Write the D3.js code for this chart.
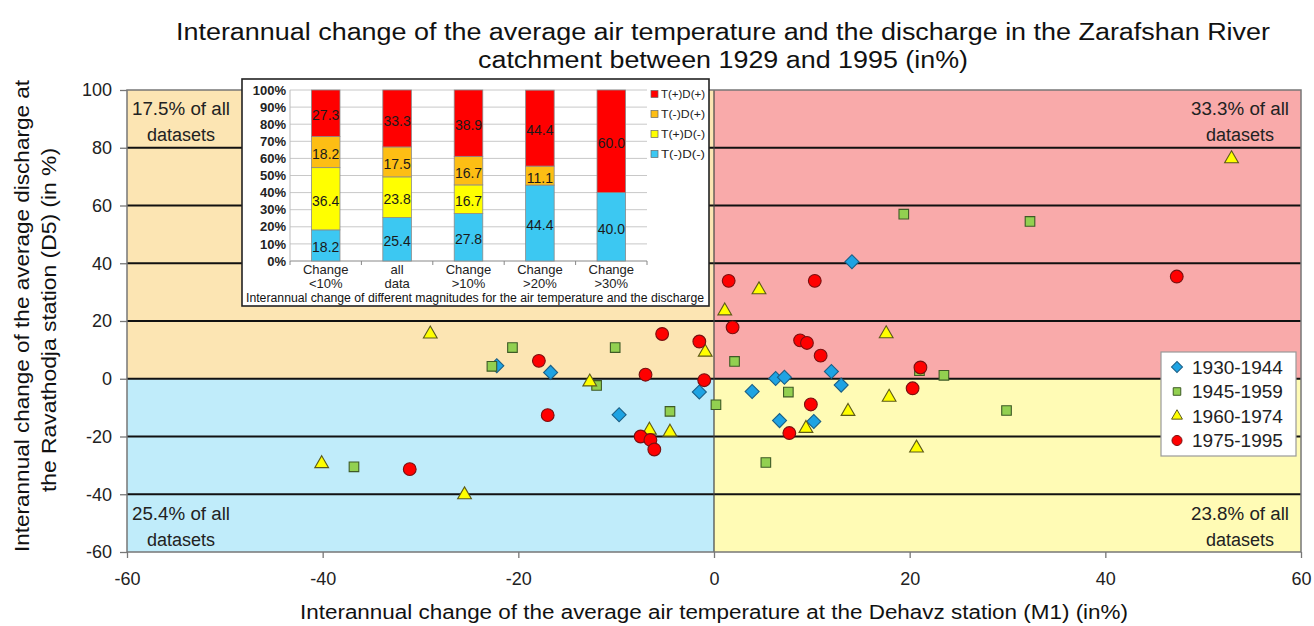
<!DOCTYPE html>
<html><head><meta charset="utf-8">
<script src="https://cdn.jsdelivr.net/npm/d3@7"></script>
<style>
html,body{margin:0;padding:0;background:#fff;}
svg{display:block;font-family:"Liberation Sans",Arial,sans-serif;}
</style></head>
<body><svg id="c" width="1314" height="626"></svg>
<script>
// ---- Main scatter data (x = temperature change %, y = discharge change %) ----
const s1930x = [-22.2, -16.7, -9.7, -1.5, 14.1, 12.0, 6.3, 7.2, 13.0, 3.9, 6.7, 10.2];
const s1930y = [4.5, 2.2, -12.5, -4.6, 40.5, 2.5, 0.1, 0.5, -2.2, -4.4, -14.5, -14.8];
const s1945x = [-20.6, -22.7, -10.1, -12.0, -4.5, 0.2, -36.8, 19.4, 32.3, 2.1, 21.0, 23.5, 7.6, 29.9, 5.3];
const s1945y = [10.8, 4.3, 10.8, -2.3, -11.3, -9.0, -30.5, 57.0, 54.5, 6.0, 2.8, 1.2, -4.6, -11.0, -29.0];
const s1960x = [-29.0, -0.9, -12.7, -6.6, -4.5, -40.1, -25.5, 52.9, 4.6, 1.1, 17.6, 17.9, 13.7, 9.4, 20.7];
const s1960y = [15.5, 9.2, -1.1, -17.8, -18.5, -29.4, -40.2, 76.2, 30.8, 23.5, 15.6, -6.4, -11.3, -17.2, -24.0];
const s1975x = [-17.9, -5.3, -1.5, -7.0, -1.0, -17.0, -7.5, -6.5, -6.1, -31.1, 1.5, 10.3, 47.3, 1.9, 8.8, 9.5, 10.9, 21.1, 20.3, 9.9, 7.7];
const s1975y = [6.2, 15.5, 12.9, 1.4, -0.5, -12.6, -20.0, -21.2, -24.5, -31.3, 33.9, 33.9, 35.4, 17.8, 13.3, 12.4, 8.0, 3.9, -3.3, -8.9, -18.8];
const seriesNames = ["1930-1944", "1945-1959", "1960-1974", "1975-1995"];
const xTicks = [-60, -40, -20, 0, 20, 40, 60];
const yTicks = [-60, -40, -20, 0, 20, 40, 60, 80, 100];
const quadrantLabels = ["17.5% of all", "33.3% of all", "25.4% of all", "23.8% of all"];

// ---- Inset stacked bar data ----
const insetCats = ["Change|<10%", "all|data", "Change|>10%", "Change|>20%", "Change|>30%"];
const tmDm = [18.2, 25.4, 27.8, 44.4, 40.0];   // T(-)D(-)
const tpDm = [36.4, 23.8, 16.7, 0, 0];         // T(+)D(-)
const tmDp = [18.2, 17.5, 16.7, 11.1, 0];      // T(-)D(+)
const tpDp = [27.3, 33.3, 38.9, 44.4, 60.0];   // T(+)D(+)
const insetKeys = ["T(-)D(-)", "T(+)D(-)", "T(-)D(+)", "T(+)D(+)"];
const insetTicks = [0,10,20,30,40,50,60,70,80,90,100];

const svg = d3.select("#c");
const x = d3.scaleLinear().domain([-60, 60]).range([127, 1301]);
const y = d3.scaleLinear().domain([-60, 100]).range([552, 90]);

// Quadrant backgrounds
const quads = [
  {x0:-60,x1:0,y0:0,y1:100,c:"#FCE5B3"},
  {x0:0,x1:60,y0:0,y1:100,c:"#F9AAAA"},
  {x0:-60,x1:0,y0:-60,y1:0,c:"#C0ECFA"},
  {x0:0,x1:60,y0:-60,y1:0,c:"#FFFBB5"}
];
svg.append("g").selectAll("rect").data(quads).join("rect")
  .attr("x", d => x(d.x0)).attr("y", d => y(d.y1))
  .attr("width", d => x(d.x1) - x(d.x0)).attr("height", d => y(d.y0) - y(d.y1))
  .attr("fill", d => d.c);

// Horizontal gridlines
svg.append("g").selectAll("line").data(yTicks.filter(v => v > -60 && v < 100)).join("line")
  .attr("x1", x(-60)).attr("x2", x(60)).attr("y1", d => y(d)).attr("y2", d => y(d))
  .attr("stroke", "#111").attr("stroke-width", 1.8);
// vertical line at 0
svg.append("line").attr("x1", x(0)).attr("x2", x(0)).attr("y1", y(100)).attr("y2", y(-60))
  .attr("stroke", "#444").attr("stroke-width", 1.2);
// plot border
svg.append("rect").attr("x", x(-60)).attr("y", y(100)).attr("width", x(60)-x(-60)).attr("height", y(-60)-y(100))
  .attr("fill", "none").attr("stroke", "#777").attr("stroke-width", 1.5);

// Axes
const fmt = d => String(d);
const yAxis = svg.append("g").attr("transform", `translate(${x(-60)},0)`)
  .call(d3.axisLeft(y).tickValues(yTicks).tickFormat(fmt).tickSize(7).tickPadding(8));
const xAxis = svg.append("g").attr("transform", `translate(0,${y(-60)})`)
  .call(d3.axisBottom(x).tickValues(xTicks).tickFormat(fmt).tickSize(6).tickPadding(14));
[yAxis, xAxis].forEach(a => {
  a.select(".domain").remove();
  a.selectAll(".tick line").attr("stroke", "#777").attr("stroke-width", 1.3);
  a.selectAll(".tick text").attr("font-family", "Liberation Sans, Arial, sans-serif")
    .attr("font-size", 18).attr("fill", "#222");
});

// Quadrant labels
const ql = [
  {t: quadrantLabels[0], cx: 181, by: 115},
  {t: quadrantLabels[1], cx: 1240, by: 115},
  {t: quadrantLabels[2], cx: 181, by: 520},
  {t: quadrantLabels[3], cx: 1240, by: 520}
];
ql.forEach(q => {
  const t = svg.append("text").attr("x", q.cx).attr("y", q.by).attr("text-anchor", "middle")
    .attr("font-size", 18).attr("fill", "#222");
  t.append("tspan").attr("x", q.cx).attr("textLength", 98).attr("lengthAdjust", "spacingAndGlyphs").text(q.t);
  t.append("tspan").attr("x", q.cx).attr("dy", 26).text("datasets");
});

// Markers
const series = [
  {xs: s1930x, ys: s1930y, type: "diamond", fill: "#1EA3E3", stroke: "#1B5F86"},
  {xs: s1945x, ys: s1945y, type: "square", fill: "#92D050", stroke: "#3E5A26"},
  {xs: s1960x, ys: s1960y, type: "triangle", fill: "#FFFF00", stroke: "#5C5A1A"},
  {xs: s1975x, ys: s1975y, type: "circle", fill: "#FF0000", stroke: "#7A1010"}
];
function shapePath(type, big) {
  const k = big ? 1 : 0.62;
  if (type === "diamond") return d3.symbol(d3.symbolSquare, 98 * k)();
  if (type === "square") return d3.symbol(d3.symbolSquare, 92 * k)();
  if (type === "triangle") return d3.symbol(d3.symbolTriangle, 82 * k)();
  return d3.symbol(d3.symbolCircle, 128 * k)();
}
const mg = svg.append("g");
series.forEach(s => {
  const pts = s.xs.map((v, i) => [v, s.ys[i]]);
  mg.append("g").selectAll("path").data(pts).join("path")
    .attr("d", shapePath(s.type, true))
    .attr("transform", d => `translate(${x(d[0])},${y(d[1])})` + (s.type === "diamond" ? " rotate(45)" : ""))
    .attr("fill", s.fill).attr("stroke", s.stroke).attr("stroke-width", 1.1);
});

// Main legend
const lg = svg.append("g");
lg.append("rect").attr("x", 1161).attr("y", 352).attr("width", 135).attr("height", 104)
  .attr("fill", "#fff").attr("stroke", "#999").attr("stroke-width", 1.2);
series.forEach((s, i) => {
  const cy = 367 + i * 24.5;
  lg.append("path").attr("d", shapePath(s.type, false))
    .attr("transform", `translate(1177,${cy})` + (s.type === "diamond" ? " rotate(45)" : ""))
    .attr("fill", s.fill).attr("stroke", s.stroke).attr("stroke-width", 1);
  lg.append("text").attr("x", 1192).attr("y", cy).attr("dy", "0.36em")
    .attr("font-size", 19).attr("fill", "#222").text(seriesNames[i]);
});

// Titles
svg.append("text").attr("x", 723).attr("y", 40).attr("text-anchor", "middle").attr("font-size", 23)
  .attr("fill", "#111").attr("textLength", 1094).attr("lengthAdjust", "spacingAndGlyphs")
  .text("Interannual change of the average air temperature and the discharge in the Zarafshan River");
svg.append("text").attr("x", 723).attr("y", 68).attr("text-anchor", "middle").attr("font-size", 23)
  .attr("fill", "#111").attr("textLength", 490).attr("lengthAdjust", "spacingAndGlyphs")
  .text("catchment between 1929 and 1995 (in%)");
svg.append("text").attr("x", 714).attr("y", 619).attr("text-anchor", "middle").attr("font-size", 20)
  .attr("fill", "#111").attr("textLength", 828).attr("lengthAdjust", "spacingAndGlyphs")
  .text("Interannual change of the average air temperature at the Dehavz station (M1) (in%)");
svg.append("text").attr("transform", "translate(29,316) rotate(-90)").attr("text-anchor", "middle")
  .attr("font-size", 20).attr("fill", "#111").attr("textLength", 472).attr("lengthAdjust", "spacingAndGlyphs")
  .text("Interannual change of the average discharge at");
svg.append("text").attr("transform", "translate(56,320) rotate(-90)").attr("text-anchor", "middle")
  .attr("font-size", 20).attr("fill", "#111").attr("textLength", 344).attr("lengthAdjust", "spacingAndGlyphs")
  .text("the Ravathodja station (D5) (in %)");

// ---- Inset ----
const ig = svg.append("g");
ig.append("rect").attr("x", 242).attr("y", 79).attr("width", 467).attr("height", 227)
  .attr("fill", "#fff").attr("stroke", "#222").attr("stroke-width", 1.6);
const ix = d3.scaleBand().domain(insetCats).range([290, 647]).paddingInner(0.6).paddingOuter(0.3);
const iy = d3.scaleLinear().domain([0, 100]).range([261, 90]);
ig.append("g").selectAll("line").data(insetTicks).join("line")
  .attr("x1", 290).attr("x2", 647).attr("y1", d => iy(d)).attr("y2", d => iy(d))
  .attr("stroke", d => d === 0 ? "#888" : "#c8c8c8").attr("stroke-width", 1);
ig.append("g").selectAll("text").data(insetTicks).join("text")
  .attr("x", 286).attr("y", d => iy(d)).attr("dy", "0.36em").attr("text-anchor", "end")
  .attr("font-size", 13).attr("font-weight", 600).attr("fill", "#222").text(d => d + "%");
ig.append("line").attr("x1", 290).attr("x2", 290).attr("y1", 90).attr("y2", 261).attr("stroke", "#bbb");

const insetRows = insetCats.map((c, i) => ({cat: c, [insetKeys[0]]: tmDm[i], [insetKeys[1]]: tpDm[i], [insetKeys[2]]: tmDp[i], [insetKeys[3]]: tpDp[i]}));
const stacked = d3.stack().keys(insetKeys)(insetRows);
const icol = {"T(-)D(-)": "#3CC8F2", "T(+)D(-)": "#FFFF00", "T(-)D(+)": "#FDBE14", "T(+)D(+)": "#FF0000"};
stacked.forEach(layer => {
  const g = ig.append("g");
  g.selectAll("rect").data(layer.filter(d => d[1] - d[0] > 0)).join("rect")
    .attr("x", d => ix(d.data.cat)).attr("width", ix.bandwidth())
    .attr("y", d => iy(Math.min(d[1], 100))).attr("height", d => iy(d[0]) - iy(Math.min(d[1], 100)))
    .attr("fill", icol[layer.key]).attr("stroke", "#8a8a8a").attr("stroke-width", 0.8);
  g.selectAll("text").data(layer.filter(d => d[1] - d[0] > 0)).join("text")
    .attr("x", d => ix(d.data.cat) + ix.bandwidth() / 2)
    .attr("y", d => iy((d[0] + Math.min(d[1], 100)) / 2) + 2).attr("dy", "0.36em")
    .attr("text-anchor", "middle").attr("font-size", 14).attr("fill", "#1a1a1a")
    .text(d => (d[1] - d[0]).toFixed(1));
});
// category tick marks
ig.append("g").selectAll("line").data(d3.range(6)).join("line")
  .attr("x1", i => 290 + i * ix.step()).attr("x2", i => 290 + i * ix.step())
  .attr("y1", 261).attr("y2", 265).attr("stroke", "#888");
// category labels
insetCats.forEach(c => {
  const parts = c.split("|");
  const cx = ix(c) + ix.bandwidth() / 2;
  const t = ig.append("text").attr("text-anchor", "middle").attr("font-size", 13).attr("fill", "#222");
  t.append("tspan").attr("x", cx).attr("y", 274).text(parts[0]);
  t.append("tspan").attr("x", cx).attr("y", 288).text(parts[1]);
});
ig.append("text").attr("x", 475).attr("y", 302).attr("text-anchor", "middle").attr("font-size", 12)
  .attr("fill", "#111").attr("textLength", 458).attr("lengthAdjust", "spacingAndGlyphs")
  .text("Interannual change of different magnitudes for the air temperature and the discharge");
// inset legend
insetKeys.slice().reverse().forEach((k, i) => {
  const cy = 94 + i * 20;
  ig.append("rect").attr("x", 651).attr("y", cy - 3.5).attr("width", 7).attr("height", 7)
    .attr("fill", icol[k]).attr("stroke", "#666").attr("stroke-width", 0.7);
  ig.append("text").attr("x", 661).attr("y", cy).attr("dy", "0.36em").attr("font-size", 11)
    .attr("fill", "#222").attr("textLength", 44).attr("lengthAdjust", "spacingAndGlyphs").text(k);
});
</script></body></html>
